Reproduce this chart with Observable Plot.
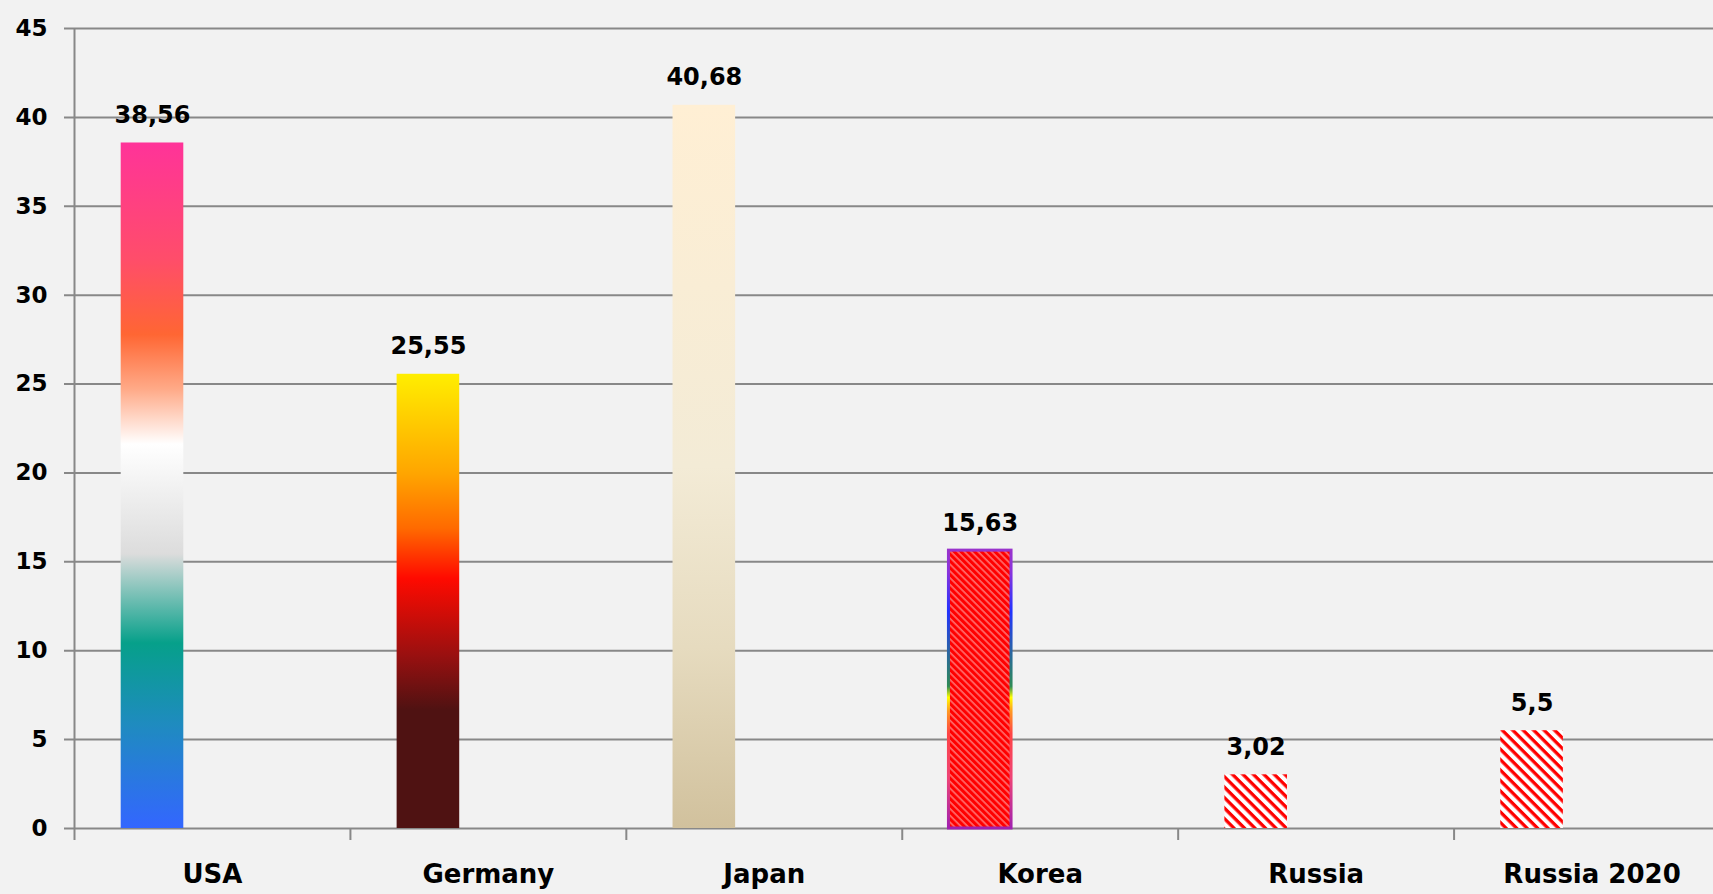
<!DOCTYPE html>
<html><head><meta charset="utf-8">
<script src="https://cdn.jsdelivr.net/npm/d3@7"></script>
<script src="https://cdn.jsdelivr.net/npm/@observablehq/plot@0.6"></script>
<style>
html,body{margin:0;padding:0;background:#f2f2f2;overflow:hidden;}
#chart svg{background:#f2f2f2;overflow:visible;}
</style></head><body>
<svg width="0" height="0" style="position:absolute">
<defs>
<linearGradient id="gUSA" x1="0" y1="0" x2="0" y2="1">
  <stop offset="0" stop-color="#ff3399"/>
  <stop offset="0.17" stop-color="#ff4d6a"/>
  <stop offset="0.28" stop-color="#ff6633"/>
  <stop offset="0.36" stop-color="#ffaa88"/>
  <stop offset="0.44" stop-color="#ffffff"/>
  <stop offset="0.60" stop-color="#dcdcdc"/>
  <stop offset="0.73" stop-color="#06a08a"/>
  <stop offset="0.85" stop-color="#1f8bc0"/>
  <stop offset="1" stop-color="#3366ff"/>
</linearGradient>
<linearGradient id="gGermany" x1="0" y1="0" x2="0" y2="1">
  <stop offset="0" stop-color="#ffee00"/>
  <stop offset="0.22" stop-color="#ffa500"/>
  <stop offset="0.34" stop-color="#ff6a00"/>
  <stop offset="0.45" stop-color="#ff0a00"/>
  <stop offset="0.62" stop-color="#991010"/>
  <stop offset="0.74" stop-color="#4f1212"/>
  <stop offset="1" stop-color="#4f1212"/>
</linearGradient>
<linearGradient id="gJapan" x1="0" y1="0" x2="0" y2="1">
  <stop offset="0" stop-color="#ffefd4"/>
  <stop offset="0.5" stop-color="#f3ebd6"/>
  <stop offset="0.75" stop-color="#e6dbbf"/>
  <stop offset="1" stop-color="#d1c19d"/>
</linearGradient>
<linearGradient id="gKoreaBorder" x1="0" y1="0" x2="0" y2="1">
  <stop offset="0" stop-color="#9933cc"/>
  <stop offset="0.08" stop-color="#8833dd"/>
  <stop offset="0.22" stop-color="#2233ff"/>
  <stop offset="0.38" stop-color="#2a6a9a"/>
  <stop offset="0.49" stop-color="#2e8b57"/>
  <stop offset="0.53" stop-color="#ffff00"/>
  <stop offset="0.58" stop-color="#ff9922"/>
  <stop offset="0.66" stop-color="#ff4444"/>
  <stop offset="0.82" stop-color="#ee4477"/>
  <stop offset="1" stop-color="#a020b0"/>
</linearGradient>
<pattern id="pKorea" patternUnits="userSpaceOnUse" width="4.8" height="4.8" patternTransform="rotate(45)">
  <rect x="0" y="0" width="4.8" height="4.8" fill="#ff0000"/>
  <rect x="0" y="0" width="4.8" height="1.7" fill="#ff6a6a"/>
</pattern>
<pattern id="pRussia" patternUnits="userSpaceOnUse" width="7.4" height="7.4" patternTransform="rotate(45)">
  <rect x="0" y="0" width="7.4" height="7.4" fill="#ffffff"/>
  <rect x="0" y="0" width="7.4" height="3.3" fill="#ff0000"/>
</pattern>
</defs></svg>
<div id="chart"></div>
<script>
const categories = ["USA", "Germany", "Japan", "Korea", "Russia", "Russia 2020"];
const values = [38.56, 25.55, 40.68, 15.63, 3.02, 5.5];
const valueLabels = ["38,56", "25,55", "40,68", "15,63", "3,02", "5,5"];
const yTicks = [0, 5, 10, 15, 20, 25, 30, 35, 40, 45];

const barFills = ["url(#gUSA)", "url(#gGermany)", "url(#gJapan)", "url(#pKorea)", "url(#pRussia)", "url(#pRussia)"];
const barStrokes = ["none", "none", "none", "url(#gKoreaBorder)", "none", "none"];

const data = categories.map((c, i) => ({category: c, value: values[i], label: valueLabels[i]}));

const W = 1713, H = 894;
const xLeft = 74, xRight = 1729.5;
const band = (xRight - xLeft) / categories.length;
const barInsetLeft = 46.7, barWidth = 62.6;
const barInsetRight = band - barInsetLeft - barWidth;
const barDx = barInsetLeft + barWidth / 2 - band / 2;

const barMarks = data.map((d, i) => Plot.barY([d], {
  x: "category", y: "value",
  fill: barFills[i],
  stroke: barStrokes[i],
  strokeWidth: barStrokes[i] === "none" ? 0 : 3,
  insetLeft: barInsetLeft, insetRight: barInsetRight
}));

const chart = Plot.plot({
  width: W, height: H,
  marginTop: 28, marginBottom: 66, marginLeft: 74, marginRight: 0,
  style: {fontFamily: "'DejaVu Sans', sans-serif", fontWeight: "bold", background: "#f2f2f2", color: "#000"},
  x: {domain: categories, range: [xLeft, xRight], padding: 0, round: false, axis: null},
  y: {domain: [0, 45], range: [828, 28], axis: null},
  marks: [
    Plot.ruleY(yTicks, {y: d => d, stroke: "#888", strokeWidth: 2, insetLeft: -10, strokeOpacity: 1}),
    Plot.ruleX([categories[0]], {x: d => d, dx: -band / 2, y1: 0, y2: 45, stroke: "#888", strokeWidth: 2}),
    Plot.ruleX(categories, {x: d => d, dx: -band / 2, insetTop: 800, insetBottom: -12, stroke: "#888", strokeWidth: 2}),
    ...barMarks,
    Plot.text(data, {x: "category", y: "value", text: "label", dx: barDx, dy: -20, lineAnchor: "bottom", fontSize: 24, fontWeight: "bold", fill: "#000"}),
    Plot.text(yTicks, {frameAnchor: "left", dx: -27, y: d => d, text: d => String(d), textAnchor: "end", fontSize: 23, fontWeight: "bold", fill: "#000"}),
    Plot.text(categories, {x: d => d, y: 0, dy: 46, text: d => d, fontSize: 26, fontWeight: "bold", fill: "#000", lineAnchor: "middle"})
  ]
});
document.getElementById("chart").appendChild(chart);
</script>
</body></html>
